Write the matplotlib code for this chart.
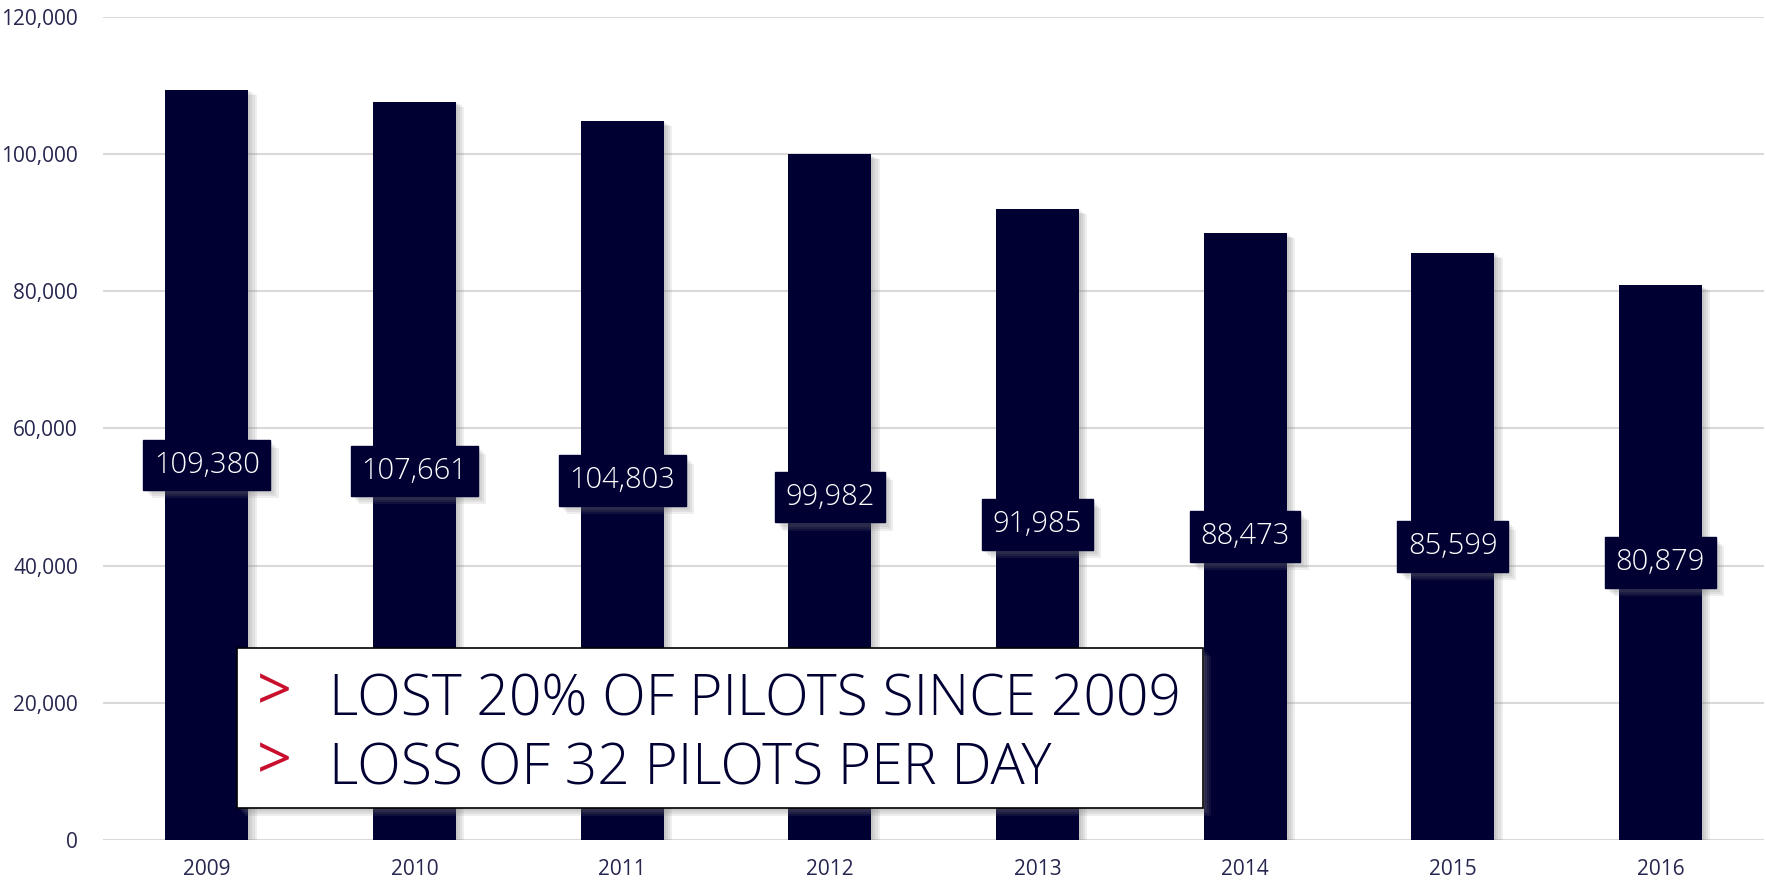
import matplotlib
matplotlib.use("Agg")
import matplotlib.pyplot as plt
import matplotlib.patheffects as pe
from matplotlib.patches import Rectangle

# pilot counts per year
years = ["2009", "2010", "2011", "2012", "2013", "2014", "2015", "2016"]
pilots = [109380, 107661, 104803, 99982, 91985, 88473, 85599, 80879]
y_ticks = [0, 20000, 40000, 60000, 80000, 100000, 120000]
notes = ["LOST 20% OF PILOTS SINCE 2009", "LOSS OF 32 PILOTS PER DAY"]

NAVY = "#000033"
TICK = "#26264f"
RED = "#c8102e"

plt.rcParams["font.family"] = ["Open Sans", "DejaVu Sans"]

fig = plt.figure(figsize=(17.66, 8.8), dpi=100)
ax = fig.add_axes([0.0583, 0.0455, 0.9407, 0.9352])


def soft_shadow(dx=1.0, dy=1.0):
    # a few stacked translucent offsets give a blurred drop shadow
    layers = [pe.SimplePatchShadow(offset=(k * dx, -k * dy), shadow_rgbFace="#808080", alpha=0.13)
              for k in (6, 4.5, 3, 1.5)]
    return layers + [pe.Normal()]


x = range(len(years))
bars = ax.bar(x, pilots, width=0.4, color=NAVY, zorder=3)
for b in bars:
    b.set_path_effects(soft_shadow(1.0, 0.6))

# value labels sit halfway up each bar
for i, v in enumerate(pilots):
    t = ax.text(i, v / 2, f"{v:,}", ha="center", va="center", color="white",
                fontsize=21, fontweight="light", zorder=5,
                bbox=dict(boxstyle="square,pad=0.36", fc=NAVY, ec=NAVY))
    t.get_bbox_patch().set_path_effects(soft_shadow(1.0, 1.0))

ax.set_xlim(-0.5, 7.5)
ax.set_ylim(0, 120000)
ax.set_yticks(y_ticks)
ax.set_yticklabels([f"{t:,}" for t in y_ticks])
ax.set_xticks(list(x))
ax.set_xticklabels(years)
ax.tick_params(axis="both", length=0, labelsize=15, labelcolor=TICK)
ax.tick_params(axis="y", pad=18)
ax.tick_params(axis="x", pad=14)
ax.grid(axis="y", color="#d9d9d9", linewidth=1.5, zorder=0)
for s in ax.spines.values():
    s.set_visible(False)

# callout box with the two takeaways
box = Rectangle((0.1342, 0.0818), 0.547, 0.1818, transform=fig.transFigure,
                fc="white", ec="black", lw=1.2, zorder=10)
box.set_path_effects(soft_shadow(1.0, 1.0))
fig.patches.append(box)

for yb, note in zip([0.1875, 0.108], notes):
    fig.text(0.1455, yb + 0.006, ">", color=RED, fontsize=44,
             va="baseline", zorder=11)
    fig.text(0.1865, yb, note, color=NAVY, fontsize=41, fontweight="light",
             va="baseline", zorder=11)

fig.savefig("out.png", dpi=100)
